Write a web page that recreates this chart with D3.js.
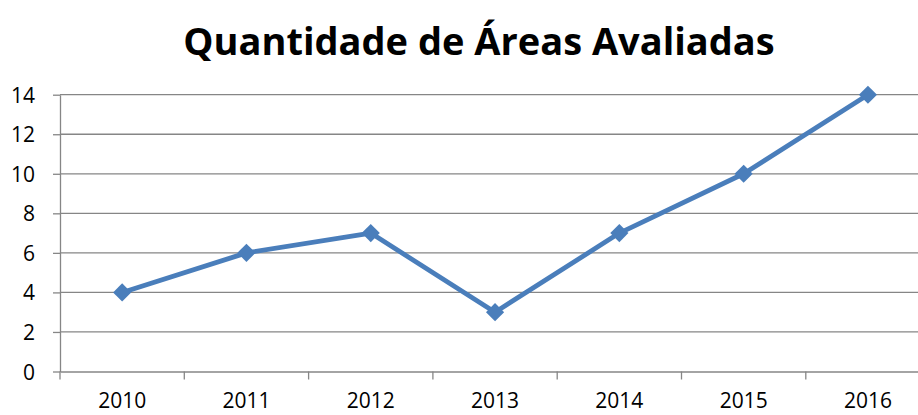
<!DOCTYPE html>
<html><head><meta charset="utf-8">
<script src="https://cdn.jsdelivr.net/npm/d3@7"></script>
<style>body{margin:0;background:#fff;overflow:hidden}svg{display:block}text{font-variant-ligatures:none}</style>
</head><body>
<script>
const title = "Quantidade de Áreas Avaliadas";
const years = ["2010","2011","2012","2013","2014","2015","2016"];
const values = [4, 6, 7, 3, 7, 10, 14];
const yTicks = [0, 2, 4, 6, 8, 10, 12, 14];

(function () {
const W = 918, H = 415;
const svg = d3.select("body").append("svg").attr("width", W).attr("height", H);
const font = "'Open Sans', Lato, sans-serif";

const plotLeft = 60, bandW = 124.3, plotTop = 94.7, plotBottom = 371.5;
const x = d3.scaleBand().domain(years).range([plotLeft, plotLeft + bandW * years.length]).padding(0);
const y = d3.scaleLinear().domain([0, 14]).range([plotBottom, plotTop]);

svg.append("g").selectAll("line").data(yTicks.filter(d => d > 0)).join("line")
  .attr("x1", plotLeft).attr("x2", W).attr("y1", d => y(d)).attr("y2", d => y(d))
  .attr("stroke", "#868686").attr("stroke-width", 1.3);

const yAxis = svg.append("g").attr("transform", `translate(${plotLeft},0)`)
  .call(d3.axisLeft(y).tickValues(yTicks).tickSize(7).tickPadding(18).tickSizeOuter(0));
yAxis.select(".domain").attr("stroke", "#868686").attr("stroke-width", 1.3);
yAxis.selectAll(".tick line").attr("stroke", "#868686").attr("stroke-width", 1.3);
yAxis.selectAll("text").attr("font-family", font).attr("font-size", 21).attr("fill", "#000")
  .attr("dy", "0.36em");

const xAxis = svg.append("g").attr("transform", `translate(0,${plotBottom})`)
  .call(d3.axisBottom(x).tickSize(0).tickPadding(22));
xAxis.select(".domain").attr("stroke", "#868686").attr("stroke-width", 1.3);
xAxis.selectAll("text").attr("font-family", font).attr("font-size", 21).attr("fill", "#000");
const bounds = d3.range(years.length + 1).map(i => plotLeft + i * bandW);
xAxis.append("g").selectAll("line").data(bounds).join("line")
  .attr("x1", d => d).attr("x2", d => d).attr("y1", 0).attr("y2", 8)
  .attr("stroke", "#868686").attr("stroke-width", 1.3);

const cx = d => x(d) + x.bandwidth() / 2;
const line = d3.line().x((d, i) => cx(years[i])).y(d => y(d));
svg.append("path").datum(values).attr("d", line)
  .attr("fill", "none").attr("stroke", "#4a7ebb").attr("stroke-width", 4.8)
  .attr("stroke-linejoin", "round");

svg.append("g").selectAll("path").data(values).join("path")
  .attr("d", d3.symbol().type(d3.symbolDiamond2).size(210))
  .attr("transform", (d, i) => `translate(${cx(years[i])},${y(d)})`)
  .attr("fill", "#4a7ebb");

svg.append("text").attr("x", 479).attr("y", 55).attr("text-anchor", "middle")
  .attr("font-family", font).attr("font-weight", "bold").attr("font-size", 38)
  .attr("fill", "#000").text(title);
})();
</script>
</body></html>
